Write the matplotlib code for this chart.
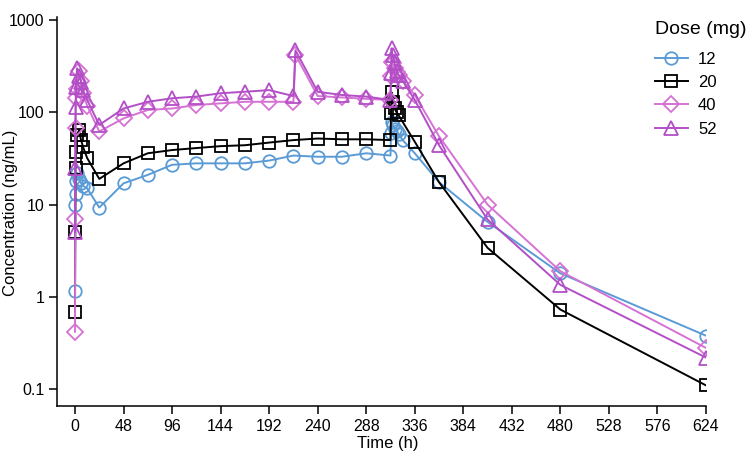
import matplotlib
matplotlib.use("Agg")
import matplotlib.pyplot as plt
from matplotlib.ticker import FixedLocator, NullLocator
from matplotlib import font_manager

names = {f.name for f in font_manager.fontManager.ttflist}
fam = "Liberation Sans Narrow" if "Liberation Sans Narrow" in names else "Liberation Sans"
plt.rcParams['font.family'] = [fam, 'DejaVu Sans']
label_fam = ["Liberation Sans", "DejaVu Sans"]

doses = ["12", "20", "40", "52"]

# Dose 12 mg
t12 = [0, 0.25, 0.5, 1, 2, 4, 6, 8, 12, 24, 48, 72, 96, 120, 144, 168, 192, 216, 240, 264, 288, 312,
       312.5, 313, 314, 316, 318, 320, 324, 336, 360, 408, 480, 624]
c12 = [1.15, 10, 13, 18, 22, 19, 17, 16, 15, 9.3, 17, 21, 27, 28, 28, 28, 30, 34, 33, 33, 36, 34,
       60, 78, 73, 66, 62, 58, 50, 36, 17.5, 6.5, 1.8, 0.38]

# Dose 20 mg
t20 = [0, 0.25, 0.5, 1, 2, 4, 6, 8, 12, 24, 48, 72, 96, 120, 144, 168, 192, 216, 240, 264, 288, 312,
       312.5, 313, 314, 316, 318, 320, 336, 360, 408, 480, 624]
c20 = [0.69, 5.0, 25, 37, 57, 64, 50, 42, 32, 19, 28, 36, 39, 41, 43, 44, 47, 50, 52, 51, 51, 50,
       98, 165, 130, 110, 100, 93, 48, 17.5, 3.4, 0.73, 0.11]

# Dose 40 mg
t40 = [0, 0.25, 0.5, 1, 2, 4, 6, 8, 12, 24, 48, 72, 96, 120, 144, 168, 192, 216, 218, 240, 264, 288, 312,
       312.5, 313, 314, 316, 318, 320, 324, 336, 360, 408, 480, 624]
c40 = [0.42, 7.0, 67, 142, 180, 280, 220, 160, 118, 62, 86, 106, 110, 120, 125, 130, 130, 130, 420, 150, 145, 140, 136,
       250, 353, 338, 300, 275, 254, 220, 154, 55, 10, 1.9, 0.28]

# Dose 52 mg
t52 = [0, 0.25, 0.5, 1, 2, 4, 6, 8, 12, 24, 48, 72, 96, 120, 144, 168, 192, 216, 218, 240, 264, 288, 312,
       312.5, 313, 314, 316, 318, 320, 324, 336, 360, 408, 480, 624]
c52 = [5.0, 25, 115, 190, 300, 250, 215, 174, 136, 73, 110, 130, 142, 148, 161, 167, 174, 150, 470, 167, 154, 148, 136,
       264, 493, 420, 340, 280, 254, 220, 136, 44, 6.9, 1.35, 0.22]

x_ticks = [0, 48, 96, 144, 192, 240, 288, 336, 384, 432, 480, 528, 576, 624]
y_ticks = [0.1, 1, 10, 100, 1000]
y_labels = ["0.1", "1", "10", "100", "1000"]

series = [
    (t12, c12, "#5b9bd5", "o"),
    (t20, c20, "#000000", "s"),
    (t40, c40, "#d672d4", "D"),
    (t52, c52, "#b24fc6", "^"),
]

fig = plt.figure(figsize=(7.47, 4.61), dpi=100)
ax = fig.add_axes([57/747, 1-406/461, (706-57)/747, (406-17)/461])

for (t, c, col, m), lab in zip(series, doses):
    ms = 8 if m == "D" else (9.5 if m == "^" else 9)
    ax.plot(t, c, color=col, marker=m, markersize=ms, markerfacecolor="none",
            markeredgecolor=col, markeredgewidth=1.3, linewidth=1.4, label=lab)

ax.set_yscale("log")
ax.set_xlim(-17.8, 624)
ax.set_ylim(0.0658, 1078)
ax.xaxis.set_major_locator(FixedLocator(x_ticks))
ax.set_xticklabels([str(v) for v in x_ticks])
ax.yaxis.set_major_locator(FixedLocator(y_ticks))
ax.yaxis.set_minor_locator(NullLocator())
ax.set_yticklabels(y_labels)
ax.spines["top"].set_visible(False)
ax.spines["right"].set_visible(False)
for s in ["left", "bottom"]:
    ax.spines[s].set_linewidth(1.1)
ax.tick_params(axis="both", direction="out", length=6, width=1.1, labelsize=11.5, pad=3)
ax.set_xlabel("Time (h)", fontsize=12, family=label_fam)
ax.set_ylabel("Concentration (ng/mL)", fontsize=12, family=label_fam)
ax.xaxis.set_label_coords((388 - 57) / (706 - 57), -(443 - 406) / (406 - 17), transform=ax.transAxes)
ax.yaxis.set_label_coords(-(57 - 10) / (706 - 57), (406 - 213) / (406 - 17), transform=ax.transAxes)
ax.xaxis.label.set_va("center")
ax.yaxis.label.set_va("center")

leg = fig.legend(loc="upper left", bbox_to_anchor=(648/747, 1-14/461), frameon=False,
                 title="Dose (mg)", fontsize=12, title_fontsize=14, handlelength=2.0,
                 labelspacing=0.5, handletextpad=0.6, borderaxespad=0)
leg._legend_box.align = "left"
leg._legend_box.sep = 10

fig.savefig("out.png", dpi=100)
